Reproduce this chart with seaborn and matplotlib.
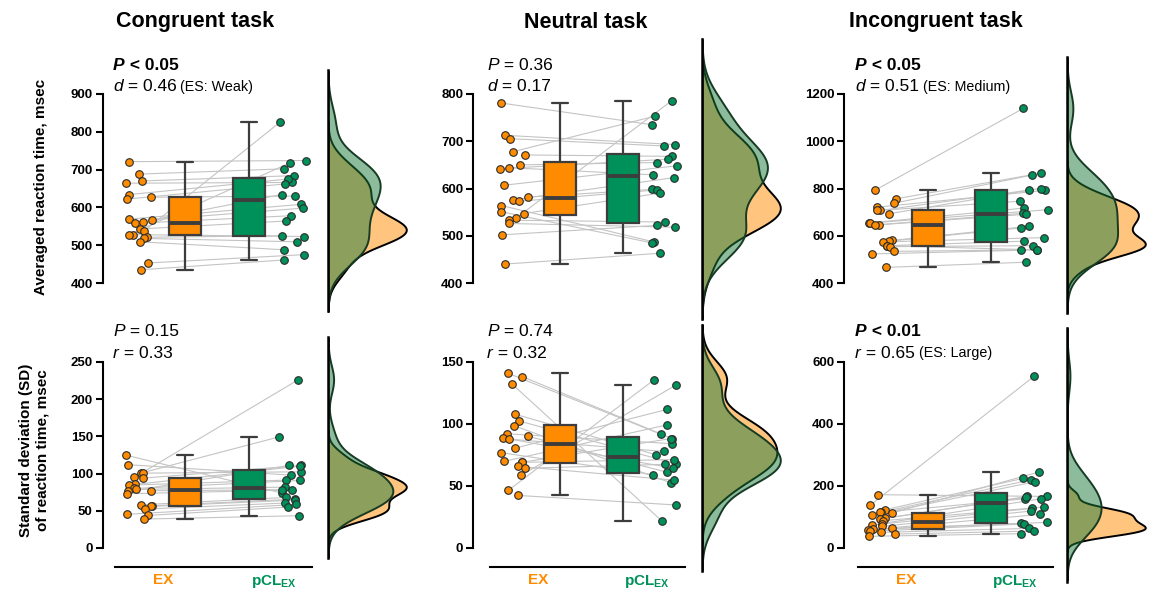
import numpy as np
import pandas as pd
import matplotlib
matplotlib.use("Agg")
import matplotlib.pyplot as plt
import seaborn as sns

sns.set_theme(style="white")
plt.rcParams["font.family"] = ["Liberation Sans", "DejaVu Sans"]
plt.rcParams["text.color"] = "black"
plt.rcParams["axes.labelcolor"] = "black"
plt.rcParams["xtick.color"] = "black"
plt.rcParams["ytick.color"] = "black"
plt.rcParams["mathtext.fontset"] = "custom"
plt.rcParams["mathtext.rm"] = "Liberation Sans"
plt.rcParams["mathtext.bf"] = "Liberation Sans:bold"
plt.rcParams["mathtext.it"] = "Liberation Sans:italic"

# ---------------- data (paired: index i = same participant) ----------------
cong_mean_ex = [721, 688, 670, 664, 634, 627, 622, 569, 567, 562, 558, 543, 537, 528, 528, 521, 518, 509, 453, 435]
cong_mean_pcl = [724, 702, 684, 666, 675, 630, 662, 608, 598, 634, 578, 564, 826, 523, 718, 525, 509, 488, 475, 461]
neut_mean_ex = [781, 712.5, 705.5, 678, 671, 650, 644, 642, 607, 582, 576, 573, 564, 551, 547, 538, 533, 526, 502, 440]
neut_mean_pcl = [735, 693, 690, 753, 668, 655, 629, 662, 648, 598, 623, 597, 487, 485, 590, 786, 529, 518, 522, 463]
incong_mean_ex = [793, 756, 738, 721, 707, 707, 693, 654, 654, 647, 645, 580, 577, 574, 558, 558, 554, 534, 523, 466]
incong_mean_pcl = [1139, 858, 865, 792, 800, 746, 793, 717, 710, 695, 691, 640, 633, 592, 540, 577, 558, 540, 540, 488]

cong_sd_ex = [124.8, 112, 100.6, 100.6, 94.8, 93.9, 85.4, 84.5, 80, 78.7, 76.9, 76, 72.9, 58.1, 56.8, 55.9, 52.3, 45.2, 43.8, 38.9]
cong_sd_pcl = [73.8, 97.9, 149.4, 102.4, 226.3, 110.9, 110, 91.2, 90.8, 81.8, 78.3, 110.9, 78, 68, 65.7, 64.4, 60.4, 58.6, 55, 43.4]
neut_sd_ex = [140.9, 138.2, 132.6, 107.8, 102.5, 98.5, 92.1, 90.2, 88.9, 87.8, 80.6, 76.9, 69.9, 69.1, 69.1, 65.9, 64.3, 58.7, 46.4, 42.4]
neut_sd_pcl = [91.8, 88.1, 21.6, 75.3, 67.8, 52.6, 84.1, 61.1, 64.3, 77.9, 111.8, 59.2, 99.3, 71.3, 88.3, 54.7, 67.5, 131.5, 135.8, 34.7]
incong_sd_ex = [172, 138.5, 123.4, 115, 114.8, 112.7, 105.2, 95.5, 93.4, 88, 79, 74, 69.8, 65.5, 61.2, 59, 53.7, 50.4, 45, 37.6]
incong_sd_pcl = [166.4, 554.9, 224.3, 220, 158.8, 245.8, 213.6, 166.4, 164.2, 132, 158.8, 127.7, 119.1, 108.4, 82.6, 79.4, 77.3, 63.3, 54.7, 46.2]

task_titles = ["Congruent task", "Neutral task", "Incongruent task"]
group_labels = ["EX", r"pCL$_{\mathbf{EX}}$"]
row_ylabels = ["Averaged reaction time, msec", "Standard deviation (SD)\nof reaction time, msec"]
yticks_mean = [[400, 500, 600, 700, 800, 900], [400, 500, 600, 700, 800], [400, 600, 800, 1000, 1200]]
yticks_sd = [[0, 50, 100, 150, 200, 250], [0, 50, 100, 150], [0, 200, 400, 600]]

# statistics text: (P text, significant?, effect symbol, effect value, effect-size label)
stats_mean = [(" < 0.05", True, "d", " = 0.46", " (ES: Weak)"),
              (" = 0.36", False, "d", " = 0.17", ""),
              (" < 0.05", True, "d", " = 0.51", " (ES: Medium)")]
stats_sd = [(" = 0.15", False, "r", " = 0.33", ""),
            (" = 0.74", False, "r", " = 0.32", ""),
            (" < 0.01", True, "r", " = 0.65", " (ES: Large)")]

data = [[(cong_mean_ex, cong_mean_pcl), (neut_mean_ex, neut_mean_pcl), (incong_mean_ex, incong_mean_pcl)],
        [(cong_sd_ex, cong_sd_pcl), (neut_sd_ex, neut_sd_pcl), (incong_sd_ex, incong_sd_pcl)]]
yticks = [yticks_mean, yticks_sd]
stats = [stats_mean, stats_sd]

# ---------------- style ----------------
ORANGE = "#FF8C00"
GREEN = "#00915A"
KDE_GREEN = "#1C7A3A"
BOXLINE = "#3d3d3d"
W, H = 1155, 589

fig = plt.figure(figsize=(W / 100, H / 100), dpi=100)


def rect(l, t, r, b):
    return [l / W, 1 - b / H, (r - l) / W, (b - t) / H]


col_left = [115, 490, 858]
col_right = [312, 685, 1053]
spine_off_px = [12.5, 17, 14]
row_top = [94, 362]
row_bot = [283, 548]
kde_left = [328, 702, 1067]
kde_w = 87
kde_top = [20, 322]
kde_bot = [330, 580]
text_x = [113, 487, 855]
text_base = [(69.5, 90.5), (336.5, 357.5)]

rng = np.random.default_rng(11)
BOX_POS = (1.2, 1.78)
PT_POS = (0.78, 2.17)


def rich(ax, x_px, y_px, pieces):
    first, kw = pieces[0]
    prev = ax.text(x_px / W, 1 - y_px / H, first, transform=fig.transFigure,
                   ha="left", va="baseline", color="black", **kw)
    for txt, kw in pieces[1:]:
        if not txt:
            continue
        prev = ax.annotate(txt, xy=(1, 0), xycoords=prev, ha="left", va="bottom",
                           annotation_clip=False, color="black", **kw)


for r in range(2):
    for c in range(3):
        ex, pcl = np.asarray(data[r][c][0], float), np.asarray(data[r][c][1], float)
        n = len(ex)
        ax = fig.add_axes(rect(col_left[c], row_top[r], col_right[c], row_bot[r]))
        ax.set_facecolor("none")

        xe = PT_POS[0] + rng.uniform(-0.13, 0.13, n)
        xp = PT_POS[1] + rng.uniform(-0.13, 0.13, n)

        # connecting lines
        ax.plot(np.vstack([xe, xp]), np.vstack([ex, pcl]), color="#c4c4c4", lw=0.8, zorder=0.5)

        # boxes
        dfb = pd.DataFrame({"pos": np.r_[np.full(n, BOX_POS[0]), np.full(n, BOX_POS[1])],
                            "value": np.r_[ex, pcl],
                            "group": ["EX"] * n + ["pCL"] * n})
        sns.boxplot(data=dfb, x="pos", y="value", hue="group", native_scale=True,
                    palette={"EX": ORANGE, "pCL": GREEN}, saturation=1, width=0.5,
                    dodge=False, showfliers=False, linewidth=1.6, linecolor=BOXLINE,
                    medianprops={"linewidth": 2.8, "color": BOXLINE},
                    legend=False, ax=ax, zorder=2)

        # points
        sns.scatterplot(x=xe, y=ex, color=ORANGE, edgecolor="#2b2b2b", linewidth=0.8,
                        s=30, ax=ax, zorder=3, legend=False)
        sns.scatterplot(x=xp, y=pcl, color=GREEN, edgecolor="#2b2b2b", linewidth=0.8,
                        s=30, ax=ax, zorder=3, legend=False)

        yt = yticks[r][c]
        ax.set_xlim(0.56, 2.35)
        ax.set_ylim(yt[0], yt[-1])
        ax.set_yticks(yt)
        ax.set_xlabel("")
        ax.set_ylabel("")
        for s in ("top", "right"):
            ax.spines[s].set_visible(False)
        ax.spines["left"].set_position(("outward", spine_off_px[c] * 0.72))
        ax.spines["left"].set_bounds(yt[0], yt[-1])
        ax.spines["left"].set_linewidth(1.5)
        ax.spines["left"].set_color("black")
        ax.tick_params(axis="y", direction="out", length=5, width=1.5, color="black",
                       pad=2, labelsize=9.5, labelcolor="black", left=True)
        for lbl in ax.get_yticklabels():
            lbl.set_fontweight("bold")
        if r == 0:
            ax.spines["bottom"].set_visible(False)
            ax.set_xticks([])
        else:
            ax.spines["bottom"].set_position(("outward", 19 * 0.72))
            ax.spines["bottom"].set_linewidth(1.5)
            ax.spines["bottom"].set_color("black")
            ax.set_xticks([1, 2])
            ax.set_xticklabels(group_labels, fontsize=11, fontweight="bold")
            ax.tick_params(axis="x", length=0, pad=4)
            for lbl, col in zip(ax.get_xticklabels(), [ORANGE, GREEN]):
                lbl.set_color(col)

        # statistics text
        ptxt, sig, sym, val, es = stats[r][c]
        y1, y2 = text_base[r]
        if sig:
            rich(ax, text_x[c], y1, [("P", dict(fontsize=12.5, fontweight="bold", fontstyle="italic")),
                                     (ptxt, dict(fontsize=12.5, fontweight="bold"))])
        else:
            rich(ax, text_x[c], y1, [("P", dict(fontsize=12.5, fontstyle="italic")),
                                     (ptxt, dict(fontsize=12.5))])
        rich(ax, text_x[c], y2, [(sym, dict(fontsize=12.5, fontstyle="italic")),
                                 (val, dict(fontsize=12.5)),
                                 (es, dict(fontsize=10.3))])

        # density (half violin) axis aligned to the same value scale
        axd = fig.add_axes(rect(kde_left[c], kde_top[r], kde_left[c] + kde_w, kde_bot[r]))
        axd.set_facecolor("none")
        scale = (yt[-1] - yt[0]) / (row_bot[r] - row_top[r])
        ylim_d = (yt[0] - (kde_bot[r] - row_bot[r]) * scale,
                  yt[-1] + (row_top[r] - kde_top[r]) * scale)
        axd.set_ylim(*ylim_d)
        sns.kdeplot(y=ex, ax=axd, fill=True, color=ORANGE, alpha=0.5, edgecolor="black",
                    linewidth=1.4, bw_adjust=0.85)
        sns.kdeplot(y=pcl, ax=axd, fill=True, color=KDE_GREEN, alpha=0.5, edgecolor="#173a24",
                    linewidth=1.4, bw_adjust=0.85)
        lo, hi, xmax = np.inf, -np.inf, 0
        for coll in axd.collections:
            for p in coll.get_paths():
                v = p.vertices
                lo, hi = min(lo, v[:, 1].min()), max(hi, v[:, 1].max())
                xmax = max(xmax, v[:, 0].max())
        axd.set_xlim(0, xmax / 0.9)
        axd.set_ylim(*ylim_d)
        for s in ("top", "right", "bottom"):
            axd.spines[s].set_visible(False)
        axd.spines["left"].set_bounds(lo, hi)
        axd.spines["left"].set_linewidth(1.8)
        axd.spines["left"].set_color("black")
        axd.set_xticks([])
        axd.set_yticks([])
        axd.set_xlabel("")
        axd.set_ylabel("")

# titles
title_cx = [195, 586, 936]
for c in range(3):
    fig.text(title_cx[c] / W, 1 - 22 / H, task_titles[c], ha="center", va="center",
             fontsize=15.5, fontweight="bold", color="black")

# row labels
fig.text(41 / W, 1 - 187 / H, row_ylabels[0], rotation=90, ha="center", va="center",
         fontsize=11, fontweight="bold", color="black")
fig.text(34 / W, 1 - 450 / H, row_ylabels[1], rotation=90, ha="center", va="center",
         fontsize=11, fontweight="bold", multialignment="center", linespacing=1.25,
         color="black")

fig.savefig("out.png", dpi=100)
